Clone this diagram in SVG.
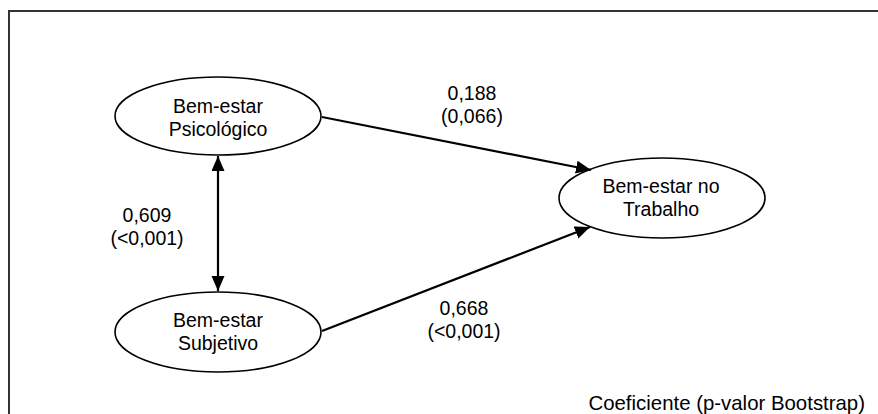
<svg xmlns="http://www.w3.org/2000/svg" width="878" height="414" viewBox="0 0 878 414">
<style>
.frame{fill:none;stroke:#333;stroke-width:2}
.node{fill:#fff;stroke:#000;stroke-width:1.6}
.lbl{font-family:"Liberation Sans",Arial,sans-serif;font-size:19.5px;fill:#000;text-anchor:middle}
.foot{font-family:"Liberation Sans",Arial,sans-serif;font-size:20.4px;fill:#000;text-anchor:end}
.edge{stroke:#000;stroke-width:2.2;fill:none}
</style>
<defs>
<marker id="ah" markerUnits="userSpaceOnUse" markerWidth="16" markerHeight="14" refX="15" refY="6.5" orient="auto-start-reverse">
<path d="M0,0 L15,6.5 L0,13 z" fill="#000"/>
</marker>
</defs>
<rect class="frame" x="9" y="11" width="890" height="430"/>
<g id="psicologico">
<ellipse class="node" cx="218" cy="116" rx="103" ry="39"/>
<text class="lbl" x="218" y="113">Bem-estar</text>
<text class="lbl" x="218" y="136">Psicológico</text>
</g>
<g id="subjetivo">
<ellipse class="node" cx="218" cy="332" rx="103" ry="40"/>
<text class="lbl" x="218" y="327">Bem-estar</text>
<text class="lbl" x="218" y="350">Subjetivo</text>
</g>
<g id="trabalho">
<ellipse class="node" cx="662" cy="198" rx="103" ry="40"/>
<text class="lbl" x="661" y="193">Bem-estar no</text>
<text class="lbl" x="661" y="216">Trabalho</text>
</g>
<g id="connectors">
<line class="edge" x1="218" y1="156" x2="218" y2="291" marker-start="url(#ah)" marker-end="url(#ah)"/>
<line class="edge" x1="322" y1="117" x2="591" y2="170" marker-end="url(#ah)"/>
<line class="edge" x1="322" y1="331" x2="590" y2="227" marker-end="url(#ah)"/>
<text class="lbl" x="472" y="100">0,188</text>
<text class="lbl" x="472" y="123">(0,066)</text>
<text class="lbl" x="147" y="222">0,609</text>
<text class="lbl" x="147" y="245">(&lt;0,001)</text>
<text class="lbl" x="464" y="315">0,668</text>
<text class="lbl" x="464" y="338">(&lt;0,001)</text>
</g>
<text class="foot" x="865" y="410">Coeficiente (p-valor Bootstrap)</text>
</svg>
